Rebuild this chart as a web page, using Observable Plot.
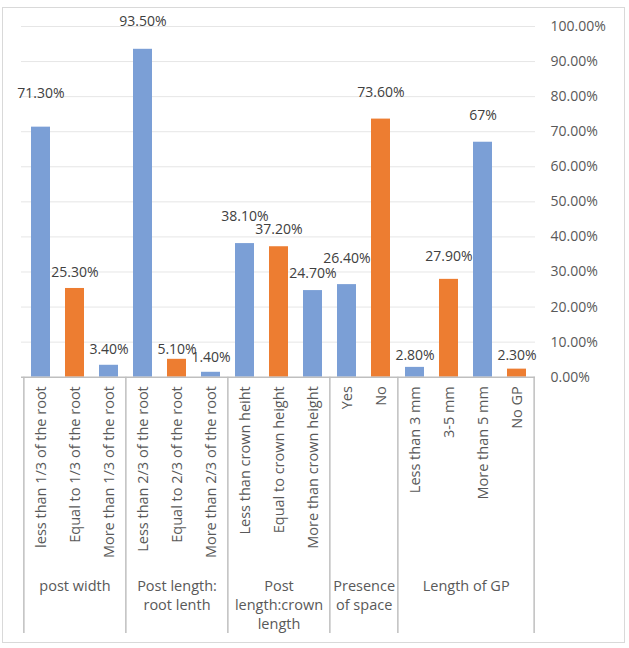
<!DOCTYPE html>
<html>
<head>
<meta charset="utf-8">
<script src="https://cdn.jsdelivr.net/npm/d3@7"></script>
<script src="https://cdn.jsdelivr.net/npm/@observablehq/plot@0.6"></script>
<style>
  html, body { margin: 0; padding: 0; background: #fff; }
  #wrap { position: relative; width: 629px; height: 648px; overflow: hidden; }
  #border { position: absolute; left: 2px; top: 7px; width: 621px; height: 634px; border: 1px solid #d9d9d9; pointer-events: none; }
  svg { font-family: "Open Sans", sans-serif; }
</style>
</head>
<body>
<div id="wrap"><div id="border"></div></div>
<script>
const categories = [
  "less than 1/3 of the root", "Equal to 1/3 of the root", "More than 1/3 of the root",
  "Less than 2/3 of the root", "Equal to 2/3 of the root", "More than 2/3 of the root",
  "Less than crown heiht", "Equal to crown height", "More than crown height",
  "Yes", "No",
  "Less than 3 mm", "3-5 mm", "More than 5 mm", "No GP"
];
const values = [0.713, 0.253, 0.034, 0.935, 0.051, 0.014, 0.381, 0.372, 0.247, 0.264, 0.736, 0.028, 0.279, 0.67, 0.023];
const valueLabels = ["71.30%", "25.30%", "3.40%", "93.50%", "5.10%", "1.40%", "38.10%", "37.20%", "24.70%", "26.40%", "73.60%", "2.80%", "27.90%", "67%", "2.30%"];
const groupNames = ["post width", "Post length:\nroot lenth", "Post\nlength:crown\nlength", "Presence\nof space", "Length of GP"];
const groupOf = [0, 0, 0, 1, 1, 1, 2, 2, 2, 3, 3, 4, 4, 4, 4];
const yTicks = [0, 0.1, 0.2, 0.3, 0.4, 0.5, 0.6, 0.7, 0.8, 0.9, 1.0];

// layout (not data): value-label offsets in px above each bar top, as placed in the reference
const labelLift = [34, 16, 16, 28, 10, 15, 27, 17, 17, 26, 27, 12, 23, 27, 14];

const W = 629, H = 648;
const mL = 21, mR = 94, mT = 26, mB = 271.3;
const step = (W - mL - mR) / categories.length;
const blue = "#7b9fd6", orange = "#ed7d31";

const data = categories.map((c, i) => {
  const first = groupOf.indexOf(groupOf[i]);
  return { cat: c, value: values[i], label: valueLabels[i], lift: labelLift[i], color: (i - first) % 2 === 0 ? blue : orange };
});
const groups = groupNames.map((name, g) => {
  const members = categories.filter((c, i) => groupOf[i] === g);
  const n = members.length;
  return { name, first: members[0], last: members[n - 1], mid: members[Math.floor((n - 1) / 2)], even: n % 2 === 0 };
});

const fmt = d3.format(".2%");
const marks = [
  Plot.ruleY(yTicks.filter(d => d > 0), { y: d => d, stroke: "#e6e6e6", strokeWidth: 1 }),
  Plot.barY(data, { x: "cat", y: "value", fill: "color" }),
  Plot.ruleY([0], { stroke: "#bfbfbf", strokeWidth: 1.5 }),
  Plot.ruleX(groups, { x: "first", dx: -step / 2, y1: 0, y2: -0.731, stroke: "#bfbfbf", strokeWidth: 1.5 }),
  Plot.ruleX(groups.slice(-1), { x: "last", dx: step / 2, y1: 0, y2: -0.731, stroke: "#bfbfbf", strokeWidth: 1.5 }),
  Plot.text(yTicks, { y: d => d, text: d => fmt(d), frameAnchor: "right", textAnchor: "start", dx: 15, fill: "#595959", fontSize: 14 }),
  Plot.text(data, { x: "cat", text: "cat", frameAnchor: "bottom", rotate: -90, textAnchor: "end", lineAnchor: "middle", dy: 9, fill: "#595959", fontSize: 14.5 }),
  Plot.text(groups.filter(g => !g.even), { x: "mid", text: "name", frameAnchor: "bottom", lineAnchor: "top", dy: 200, lineHeight: 1.32, fill: "#595959", fontSize: 14.5 }),
  Plot.text(groups.filter(g => g.even), { x: "mid", text: "name", frameAnchor: "bottom", lineAnchor: "top", dy: 200, dx: step / 2, lineHeight: 1.32, fill: "#595959", fontSize: 14.5 })
];
// value labels, one per bar, each lifted by its own offset
data.forEach(d => {
  marks.push(Plot.text([d], { x: "cat", y: "value", text: "label", dy: -d.lift, fill: "#404040", fontSize: 14 }));
});

const chart = Plot.plot({
  width: W, height: H,
  marginLeft: mL, marginRight: mR, marginTop: mT, marginBottom: mB,
  style: { fontFamily: "'Open Sans', sans-serif", fontSize: "13px", background: "white", overflow: "visible" },
  x: { domain: categories, paddingInner: 0.45, paddingOuter: 0.225, axis: null },
  y: { domain: [0, 1], axis: null },
  color: { type: "identity" },
  marks
});
document.getElementById("wrap").prepend(chart);
</script>
</body>
</html>
